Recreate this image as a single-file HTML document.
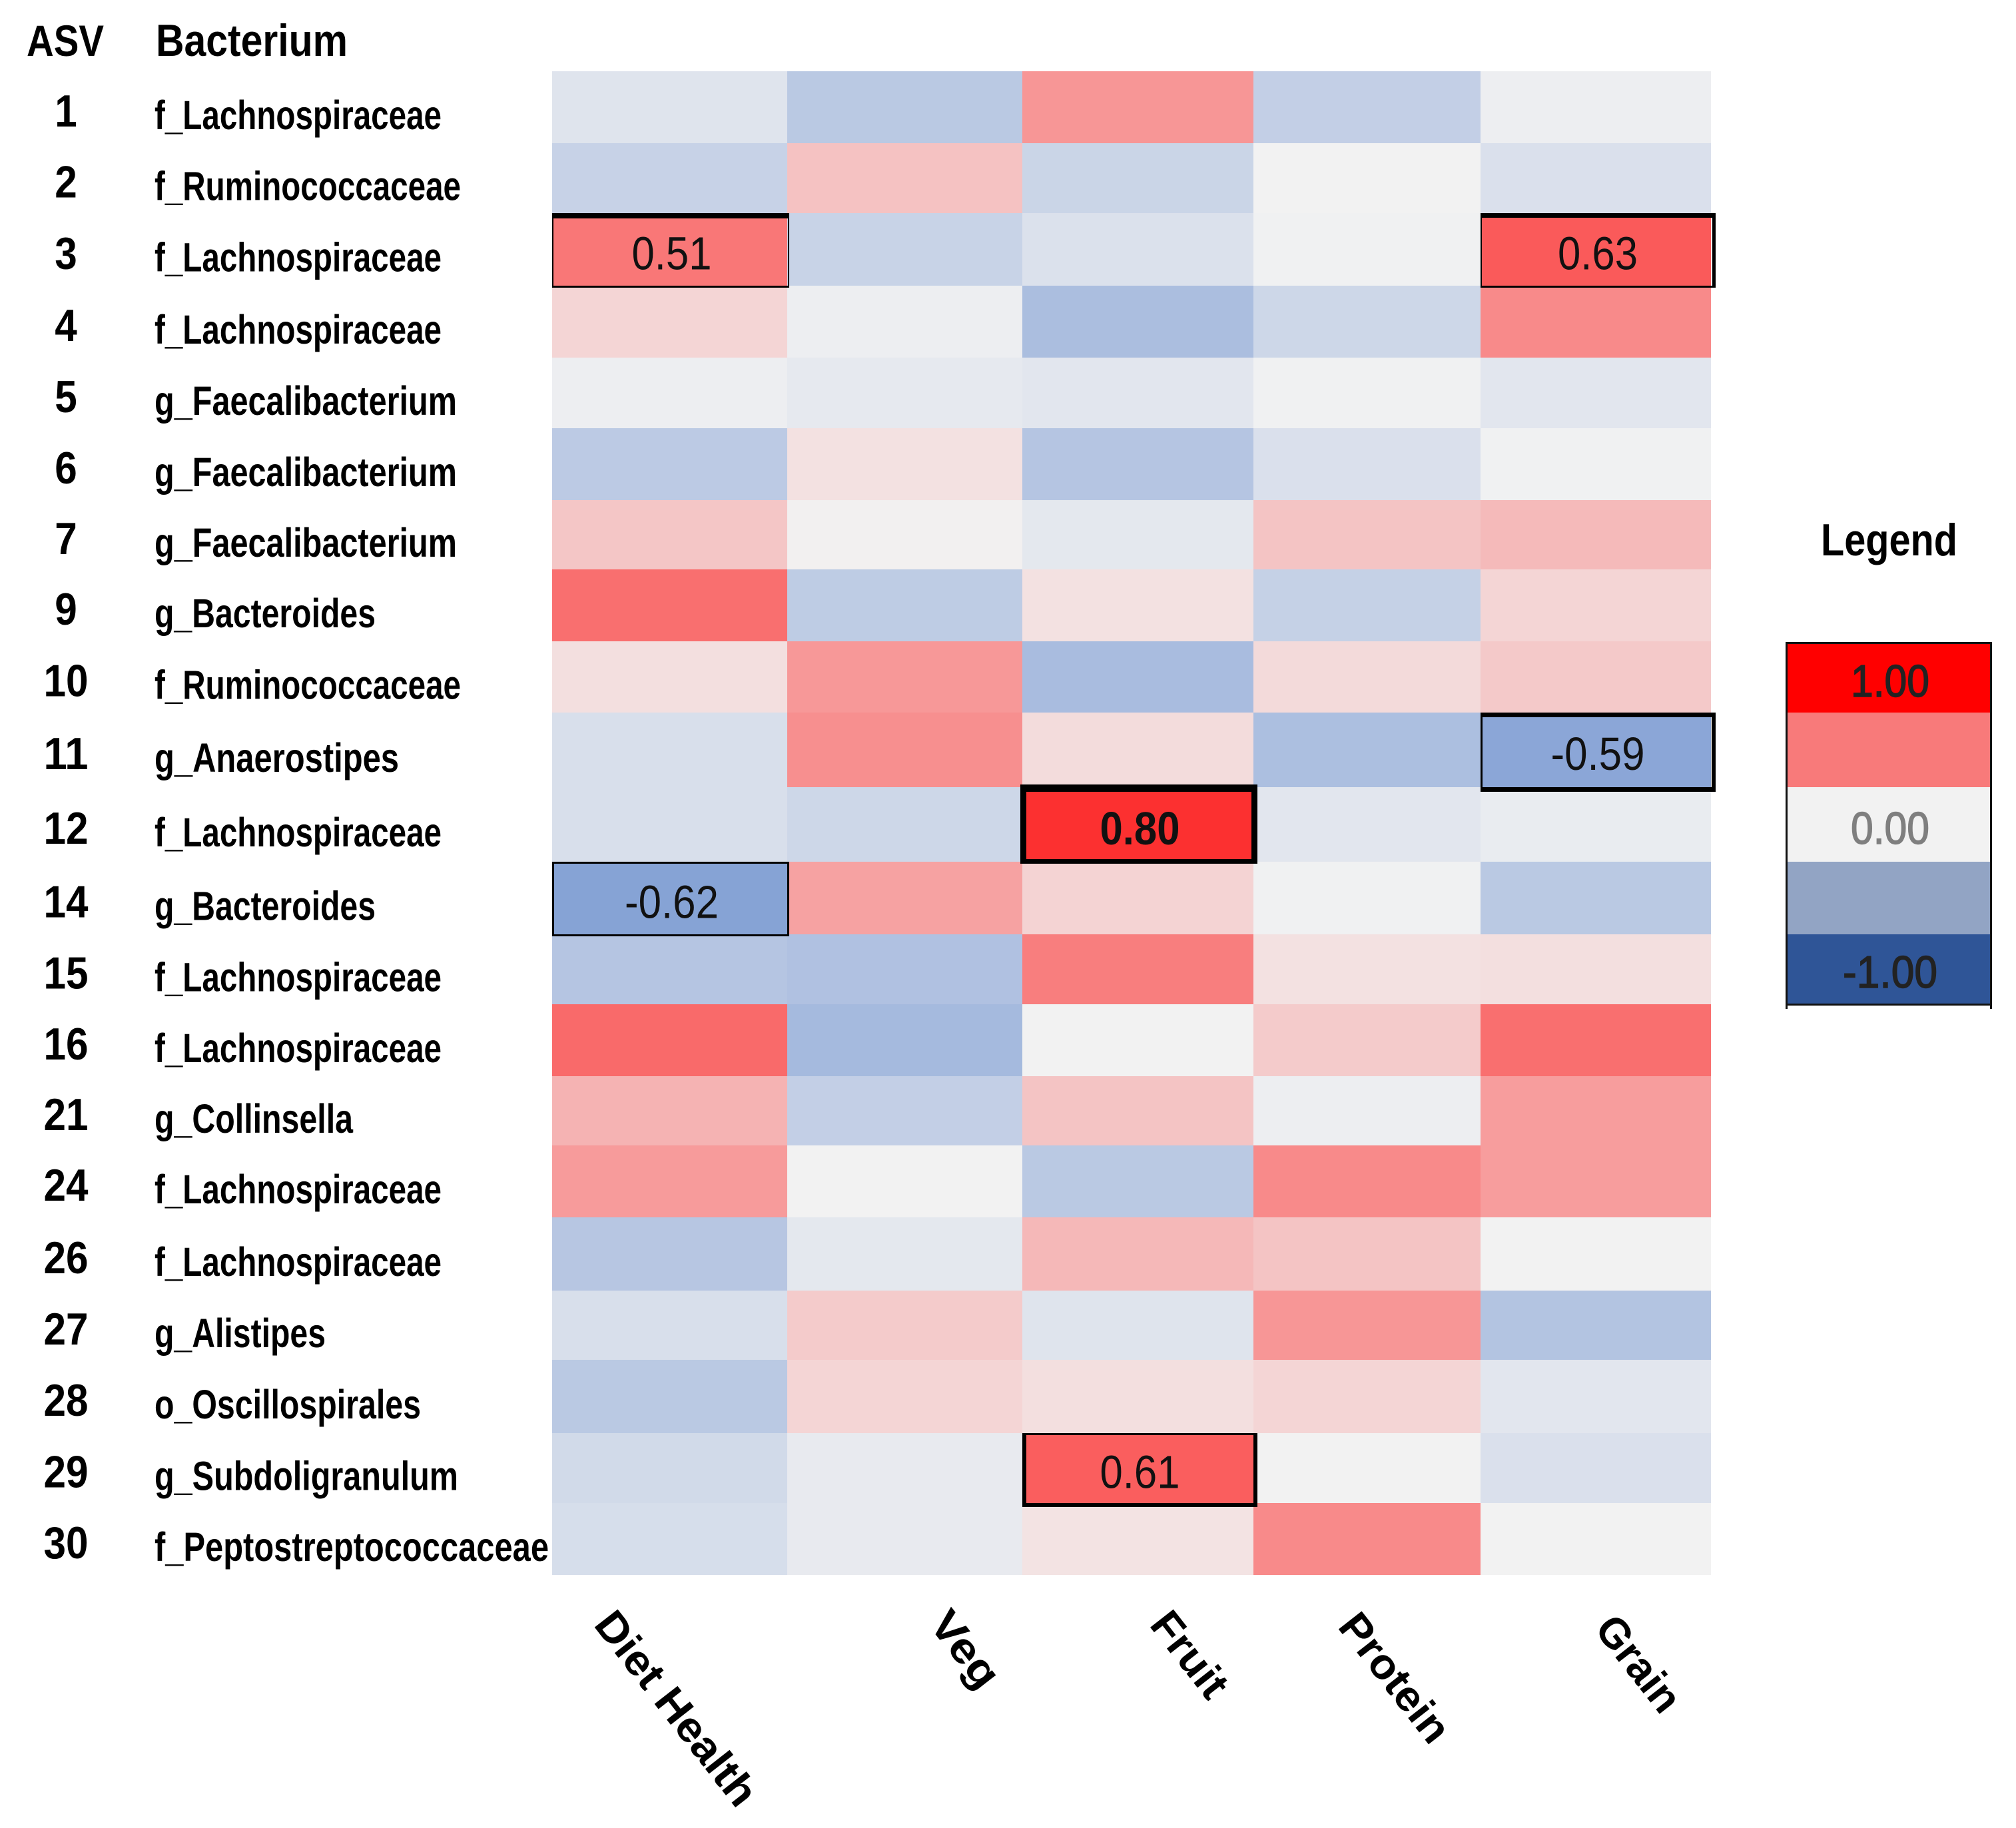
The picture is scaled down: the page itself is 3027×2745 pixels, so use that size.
<!DOCTYPE html>
<html lang="en">
<head>
<meta charset="utf-8">
<title>ASV correlation heatmap</title>
<style>
html,body{margin:0;padding:0;background:#fff;width:3027px;height:2745px;overflow:hidden}
svg{display:block}
text{font-family:"Liberation Sans Narrow","Liberation Sans",sans-serif}
.b{font-weight:700}
</style>
</head>
<body>
<svg id="chart" xmlns="http://www.w3.org/2000/svg" width="3027" height="2745" viewBox="0 0 3027 2745">
<rect width="3027" height="2745" fill="#ffffff"/>
</svg>
<script>
// ---- data ----
const asvIds = [1,2,3,4,5,6,7,9,10,11,12,14,15,16,21,24,26,27,28,29,30];
const taxa = ["f_Lachnospiraceae","f_Ruminococcaceae","f_Lachnospiraceae","f_Lachnospiraceae","g_Faecalibacterium","g_Faecalibacterium","g_Faecalibacterium","g_Bacteroides","f_Ruminococcaceae","g_Anaerostipes","f_Lachnospiraceae","g_Bacteroides","f_Lachnospiraceae","f_Lachnospiraceae","g_Collinsella","f_Lachnospiraceae","f_Lachnospiraceae","g_Alistipes","o_Oscillospirales","g_Subdoligranulum","f_Peptostreptococcaceae"];
const columnNames = ["Diet Health","Veg","Fruit","Protein","Grain"];
const dietHealth = [-0.11,-0.25,0.51,0.12,-0.03,-0.31,0.18,0.54,0.08,-0.15,-0.15,-0.62,-0.35,0.56,0.26,0.36,-0.34,-0.15,-0.32,-0.19,-0.16];
const veg = [-0.32,0.20,-0.24,-0.03,-0.07,0.07,0.01,-0.30,0.37,0.41,-0.21,0.33,-0.38,-0.44,-0.27,0.00,-0.08,0.16,0.12,-0.06,-0.06];
const fruit = [0.38,-0.23,-0.13,-0.41,-0.09,-0.35,-0.08,0.07,-0.42,0.09,0.80,0.13,0.48,0.00,0.19,-0.32,0.24,-0.11,0.08,0.61,0.06];
const protein = [-0.27,0.00,-0.01,-0.21,-0.01,-0.14,0.19,-0.26,0.10,-0.40,-0.09,-0.01,0.07,0.16,-0.03,0.43,0.19,0.38,0.12,0.00,0.43];
const grain = [-0.03,-0.14,0.63,0.43,-0.09,-0.01,0.23,0.12,0.17,-0.59,-0.05,-0.32,0.08,0.54,0.35,0.35,0.00,-0.36,-0.09,-0.14,0.00];
const legendLabels = ["1.00","","0.00","","-1.00"];
const legendColors = ["#ff0000","#f87a7a","#f2f2f2","#92a4c4","#2f5597"];

// ---- layout (not data) ----
const seriesList = [dietHealth, veg, fruit, protein, grain];
const rowEdge = [107,215,320,429,537,643,751,855,963,1070,1182,1294,1403,1508,1616,1720,1828,1938,2042,2152,2257,2365];
const colEdge = [829,1182,1535,1882,2223,2569];
const labelWidth = {"f_Lachnospiraceae":431,"f_Ruminococcaceae":460,"g_Faecalibacterium":454,"g_Bacteroides":332,"g_Anaerostipes":367,"g_Collinsella":298,"g_Alistipes":257,"o_Oscillospirales":400,"g_Subdoligranulum":456,"f_Peptostreptococcaceae":592};
const xLabelLayout = {"Diet Health":[1016,2565,352],"Veg":[1450,2476,128],"Fruit":[1787,2484,146],"Protein":[2095,2519,228],"Grain":[2461,2498,165]};
// key "asv|column": outset [top,right,bottom,left], border [top,right,bottom,left], bold
const highlightStyle = {
  "3|Diet Health":{o:[0,3,3,0],b:[8,2,3,2]},
  "3|Grain":{o:[0,7,3,0],b:[7,5,3,2]},
  "11|Grain":{o:[0,7,7,0],b:[7,6,7,3]},
  "12|Fruit":{o:[4,6,3,3],b:[11,9,7,9],bold:true},
  "14|Diet Health":{o:[0,3,3,0],b:[3,3,3,3]},
  "29|Fruit":{o:[0,6,6,0],b:[3,6,6,6]}
};

// ---- scales ----
const NS = "http://www.w3.org/2000/svg";
const svg = document.getElementById("chart");
function yTop(i){return rowEdge[i];}
function yBottom(i){return rowEdge[i+1];}
function yMid(i){return (rowEdge[i]+rowEdge[i+1])/2;}
function xLeft(j){return colEdge[j];}
function xRight(j){return colEdge[j+1];}
function xMid(j){return (colEdge[j]+colEdge[j+1])/2;}
function colorScale(v){
  const mid=[242,242,242], hi=[255,0,0], lo=[68,114,196];
  const end = v>=0 ? hi : lo, t=Math.min(1,Math.abs(v));
  return "rgb("+mid.map((m,k)=>Math.round(m+(end[k]-m)*t)).join(",")+")";
}
function mk(tag,attrs,txt){
  const e=document.createElementNS(NS,tag);
  for(const k in attrs){e.setAttribute(k,attrs[k]);}
  if(txt!==undefined){e.textContent=txt;}
  svg.appendChild(e);
  return e;
}
let el;

// headers
el = mk("text",{class:"b",x:40,y:84,"font-size":66,fill:"#000",textLength:116,lengthAdjust:"spacingAndGlyphs"},"ASV");


el = mk("text",{class:"b",x:234,y:84,"font-size":68,fill:"#000",textLength:288,lengthAdjust:"spacingAndGlyphs"},"Bacterium");



// cells
asvIds.forEach((id,i)=>{
  seriesList.forEach((series,j)=>{
    el = mk("rect",{x:xLeft(j),y:yTop(i),width:xRight(j)-xLeft(j),height:yBottom(i)-yTop(i),fill:colorScale(series[i])});
    
    
  });
});

// row labels
asvIds.forEach((id,i)=>{
  const s=String(id);
  el = mk("text",{class:"b",x:99,y:yMid(i)+29,"font-size":68,fill:"#000","text-anchor":"middle",textLength:s.length*33.5,lengthAdjust:"spacingAndGlyphs"},s);
  
  
  el = mk("text",{class:"b",x:232,y:yMid(i)+33,"font-size":61,fill:"#000",textLength:labelWidth[taxa[i]],lengthAdjust:"spacingAndGlyphs"},taxa[i]);
  
  
});

// highlighted cells with printed values
asvIds.forEach((id,i)=>{
  seriesList.forEach((series,j)=>{
    const st=highlightStyle[id+"|"+columnNames[j]];
    if(!st){return;}
    const L=xLeft(j)-st.o[3], R=xRight(j)+st.o[1], T=yTop(i)-st.o[0], B=yBottom(i)+st.o[2];
    const sides=[[L,T,R-L,st.b[0]],[R-st.b[1],T,st.b[1],B-T],[L,B-st.b[2],R-L,st.b[2]],[L,T,st.b[3],B-T]];
    sides.forEach(r=>{
      el = mk("rect",{x:r[0],y:r[1],width:r[2],height:r[3],fill:"#000"});
      
      
    });
    const t=series[i].toFixed(2);
    el = mk("text",{x:xMid(j)+3,y:yMid(i)+30,"font-size":70,"text-anchor":"middle","font-weight":st.bold?700:400,textLength:series[i]<0?141:120,lengthAdjust:"spacingAndGlyphs",fill:"#111"},t);
    
    
  });
});

// x labels
columnNames.forEach(name=>{
  const p=xLabelLayout[name];
  el = mk("text",{class:"b",x:0,y:0,dy:"0.35em","font-size":64,fill:"#000","text-anchor":"middle",textLength:p[2],lengthAdjust:"spacingAndGlyphs",transform:"translate("+p[0]+","+p[1]+") rotate(52)"},name);
  
  
});

// legend
el = mk("text",{class:"b",x:2734,y:834,"font-size":68,fill:"#000",textLength:205,lengthAdjust:"spacingAndGlyphs"},"Legend");


const legendTop=966, legendBottom=1509, legendLeft=2683, legendRight=2990;
function legendY(k){return legendTop+(legendBottom-legendTop)*[0,104,216,328,437,543][k]/543;}
legendColors.forEach((c,k)=>{
  el = mk("rect",{x:legendLeft,y:legendY(k),width:legendRight-legendLeft,height:legendY(k+1)-legendY(k),fill:c});
  
  
  if(legendLabels[k]){
    const neg=legendLabels[k].charAt(0)==="-";
    el = mk("text",{x:2838,y:legendY(k)+(k===2?85:80),"font-size":68,"text-anchor":"middle",textLength:neg?142:118,lengthAdjust:"spacingAndGlyphs",fill:k===2?"#7f7f7f":"#222",stroke:k===2?"#7f7f7f":"#222","stroke-width":1.5},legendLabels[k]);
    
    
  }
});
[[2681,964,3,551],[2988,964,3,551],[2681,964,310,3],[2681,1507,310,3]].forEach(r=>{
  el = mk("rect",{x:r[0],y:r[1],width:r[2],height:r[3],fill:"#111"});
  
  
});
</script>
</body>
</html>
